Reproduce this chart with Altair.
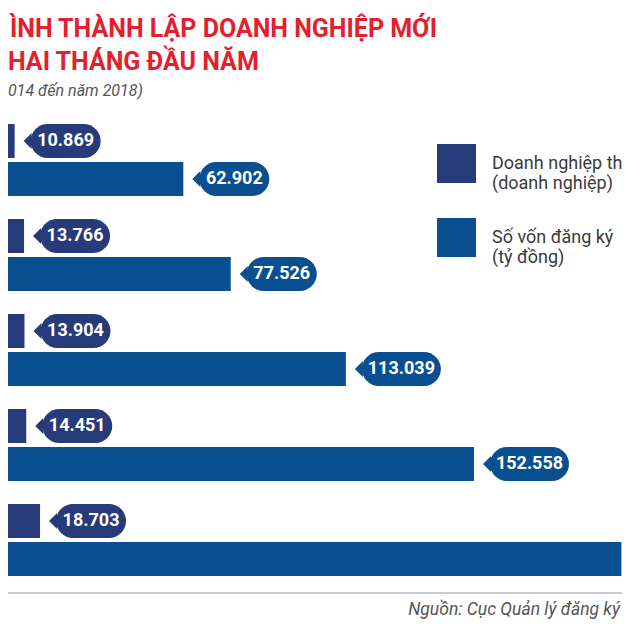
import altair as alt
import pandas as pd

# ---- data ----
years = ["2014", "2015", "2016", "2017", "2018"]
dn_values = [10.869, 13.766, 13.904, 14.451, 18.703]        # doanh nghiệp (nghìn)
von_values = [62.902, 77.526, 113.039, 152.558, 198.025]    # vốn (nghìn tỷ)
series_names = ["Doanh nghiệp thành lập mới (doanh nghiệp)", "Số vốn đăng ký (tỷ đồng)"]
series_colors = ["#273a79", "#0a4f90"]

title_line1 = "ÌNH THÀNH LẬP DOANH NGHIỆP MỚI"
title_line2 = "HAI THÁNG ĐẦU NĂM"
subtitle = "014 đến năm 2018)"
source = "Nguồn: Cục Quản lý đăng ký"

rows = []
for yr, a, b in zip(years, dn_values, von_values):
    rows.append({"year": yr, "series": series_names[0], "value": a})
    rows.append({"year": yr, "series": series_names[1], "value": b})
df = pd.DataFrame(rows)

W = H = 614
x_scale = alt.Scale(domain=[0, 200], range=[-28.6, 619.8])
y_scale = alt.Scale(range=[116, 568], paddingInner=0.242, paddingOuter=0)
yo_scale = alt.Scale(paddingInner=0.105, paddingOuter=0)
color_scale = alt.Scale(domain=series_names, range=series_colors)

X = alt.X("value:Q", scale=x_scale, axis=None)
C = alt.Color("series:N", scale=color_scale)

base = alt.Chart(df).encode(
    y=alt.Y("year:N", scale=y_scale, axis=None, sort=years),
    yOffset=alt.YOffset("series:N", scale=yo_scale, sort=series_names),
)

bars = base.mark_bar(clip=True).encode(
    x=X,
    color=alt.Color(
        "series:N",
        scale=color_scale,
        legend=alt.Legend(
            orient="none", legendX=429, legendY=136, title=None,
            symbolType="square", symbolSize=1521, symbolStrokeWidth=0,
            symbolOpacity=1, labelFont="Roboto", labelFontSize=18,
            labelColor="#3a3a3a", labelOffset=16, labelLimit=600,
            rowPadding=25, padding=0,
            labelExpr="split(replace(datum.label, ' (', '\\n('), '\\n')",
        ),
    ),
)

tri = base.mark_point(
    shape="M -1 0 L 0 -1 L 0 1 Z", size=256, filled=True, opacity=1,
    strokeWidth=0, xOffset=17, clip=True,
).encode(x=X, color=C)


def pill(cond, w):
    return base.transform_filter(cond).mark_bar(
        cornerRadius=17, xOffset=16, x2Offset=16 + w, clip=True
    ).encode(x=X, x2="value:Q", color=C)


def label(cond, w):
    return base.transform_filter(cond).mark_text(
        xOffset=16 + w / 2, font="Roboto", fontWeight="bold", fontSize=18,
        color="white", align="center", baseline="middle", clip=True,
    ).encode(x=X, text=alt.Text("value:Q", format=".3f"))


small = "datum.value < 100"
big = "datum.value >= 100"


def txt(text, x, y, **kw):
    return alt.Chart(alt.Data(values=[{}])).mark_text(**kw).encode(
        x=alt.value(x), y=alt.value(y), text=alt.value(text)
    )


t1 = txt(title_line1, 429, 29, align="right", baseline="alphabetic",
         font="Roboto", fontWeight="bold", fontSize=25, color="#e2202e")
t2 = txt(title_line2, 0, 62, align="left", baseline="alphabetic",
         font="Roboto", fontWeight="bold", fontSize=25, color="#e2202e")
t3 = txt(subtitle, 0, 88, align="left", baseline="alphabetic",
         font="Roboto", fontStyle="italic", fontSize=16, color="#555555")
src = txt(source, 612, 607, align="right", baseline="alphabetic",
          font="Roboto", fontStyle="italic", fontSize=17.5, color="#555555")

rule = alt.Chart(alt.Data(values=[{}])).mark_rule(color="#cccccc", strokeWidth=2).encode(
    x=alt.value(0), x2=alt.value(W), y=alt.value(585)
)

chart = alt.layer(
    bars, tri, pill(small, 70), pill(big, 79), label(small, 70), label(big, 79),
    t1, t2, t3, src, rule,
).properties(
    width=W, height=H, autosize=alt.AutoSizeParams(type="none"), padding=0
).configure_view(strokeWidth=0)

chart.save("out.html", embed_options={"renderer": "svg", "actions": False})
